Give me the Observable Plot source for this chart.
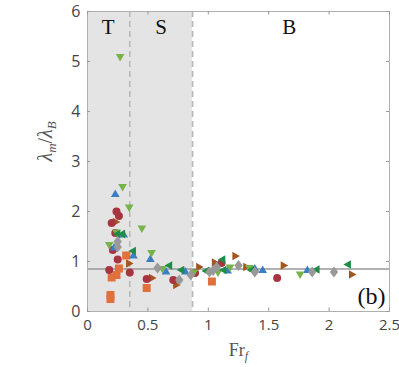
<!DOCTYPE html>
<html><head><meta charset="utf-8">
<script src="https://cdn.jsdelivr.net/npm/d3@7"></script>
<script src="https://cdn.jsdelivr.net/npm/@observablehq/plot@0.6"></script>
<style>body{margin:0;background:#fff}</style>
</head><body><div id="chart"></div>
<script>
// ---- data ----
const circles = [[0.24,2.0],[0.26,1.91],[0.20,1.77],[0.23,1.57],[0.21,1.23],[0.25,1.04],[0.18,0.83],[0.35,0.78],[0.49,0.65],[0.71,0.63],[0.89,0.77],[1.11,0.97],[1.57,0.67]];
const squares = [[0.32,1.12],[0.26,0.86],[0.24,0.73],[0.20,0.68],[0.49,0.47],[0.19,0.33],[0.19,0.25],[1.03,0.60]];
const trisUp = [[0.23,2.34],[0.30,1.53],[0.22,1.27],[0.38,1.11],[0.52,1.04],[0.65,0.79],[0.81,0.79],[1.16,0.81],[1.385,0.85],[1.45,0.82],[1.82,0.82]];
const trisDown = [[0.27,5.1],[0.29,2.5],[0.345,2.09],[0.45,1.67],[0.24,1.59],[0.18,1.34],[0.53,1.18],[0.62,0.86],[0.88,0.79],[1.08,0.79],[1.18,0.89],[1.34,0.88],[1.76,0.75]];
const trisLeft = [[0.25,1.55],[0.29,1.55],[0.38,1.21],[0.68,0.92],[0.78,0.83],[0.985,0.81],[1.12,1.04],[1.13,0.83],[1.36,0.83],[1.90,0.84],[2.16,0.94]];
const trisRight = [[0.23,1.79],[0.34,0.96],[0.53,0.67],[0.73,0.53],[0.92,0.89],[1.05,0.98],[1.22,1.11],[1.31,0.89],[1.62,0.92],[2.185,0.74]];
const diamonds = [[0.25,1.40],[0.25,1.29],[0.58,0.87],[0.76,0.63],[0.855,0.73],[1.01,0.79],[1.04,0.82],[1.07,0.89],[1.25,0.92],[1.385,0.79],[1.86,0.79],[2.04,0.79]];

const xTicks = [0, 0.5, 1, 1.5, 2, 2.5];
const xTickLabels = ["0", "0.5", "1", "1.5", "2", "2.5"];
const yTicks = [0, 1, 2, 3, 4, 5, 6];
const yTickLabels = ["0", "1", "2", "3", "4", "5", "6"];
const boundaries = [0.35, 0.87];
const shadedRegion = [{x1: 0, x2: 0.87}];
const refLine = [0.85];
const regionLabels = [{x: 0.17, label: "T"}, {x: 0.61, label: "S"}, {x: 1.67, label: "B"}];
const panelLabel = [{x: 2.35, y: 0.3, label: "(b)"}];

// ---- custom symbols ----
function tri(angle) {
  return {draw(ctx, size) {
    const r = Math.sqrt(size / Math.PI) * 1.2;
    for (let i = 0; i < 3; i++) {
      const a = angle + i * 2 * Math.PI / 3;
      const px = r * Math.cos(a), py = r * Math.sin(a);
      if (i === 0) ctx.moveTo(px, py); else ctx.lineTo(px, py);
    }
    ctx.closePath();
  }};
}
const symUp = tri(-Math.PI / 2), symDown = tri(Math.PI / 2), symLeft = tri(Math.PI), symRight = tri(0);
const symDiamond = {draw(ctx, size) {
  const r = Math.sqrt(size / Math.PI);
  const w = r * 1.05, h = r * 1.35;
  ctx.moveTo(0, -h); ctx.lineTo(w, 0); ctx.lineTo(0, h); ctx.lineTo(-w, 0); ctx.closePath();
}};
const symSquare = {draw(ctx, size) {
  const s = Math.sqrt(size / Math.PI) * 0.95;
  ctx.rect(-s, -s, 2 * s, 2 * s);
}};

const series = [
  {data: trisRight, symbol: symRight, fill: "#a5551f", r: 4.2},
  {data: squares, symbol: symSquare, fill: "#e2703c", r: 4.2},
  {data: circles, symbol: "circle", fill: "#a8343f", r: 4},
  {data: trisUp, symbol: symUp, fill: "#3a7ec3", r: 4.2},
  {data: trisDown, symbol: symDown, fill: "#78b34a", r: 4.2},
  {data: trisLeft, symbol: symLeft, fill: "#1f8c48", r: 4.2},
  {data: diamonds, symbol: symDiamond, fill: "#999999", r: 4}
];

const tickFont = "'Open Sans', sans-serif";
const serif = "'Liberation Serif', 'DejaVu Serif', serif";

const chart = Plot.plot({
  width: 399, height: 367,
  marginLeft: 87, marginRight: 10, marginTop: 11, marginBottom: 56,
  x: {domain: [0, 2.5]},
  y: {domain: [0, 6]},
  style: {background: "#fff", fontFamily: tickFont},
  marks: [
    Plot.rect(shadedRegion, {x1: "x1", x2: "x2", y1: 0, y2: 6, fill: "#e4e4e4"}),
    Plot.ruleX(boundaries, {stroke: "#b8b8b8", strokeWidth: 1.6, strokeDasharray: "6,4"}),
    Plot.ruleY(refLine, {stroke: "#999", strokeWidth: 1.4}),
    ...series.map(s => Plot.dot(s.data, {x: d => d[0], y: d => d[1], symbol: () => s.symbol, fill: s.fill, r: s.r, stroke: "none"})),
    Plot.frame({stroke: "#b0b0b0", strokeWidth: 1}),
    Plot.ruleX(xTicks, {y1: 0, y2: 0.07, stroke: "#999"}),
    Plot.ruleX(xTicks, {y1: 6, y2: 5.93, stroke: "#999"}),
    Plot.ruleY(yTicks, {x1: 0, x2: 0.025, stroke: "#999"}),
    Plot.ruleY(yTicks, {x1: 2.5, x2: 2.475, stroke: "#999"}),
    Plot.axisX({ticks: xTicks, tickFormat: (d, i) => xTickLabels[i], tickSize: 0, tickPadding: 8, fontSize: 15, color: "#444", label: null}),
    Plot.axisY({ticks: yTicks, tickFormat: (d, i) => yTickLabels[i], tickSize: 0, tickPadding: 7, fontSize: 16, color: "#444", label: null}),
    Plot.text(regionLabels, {x: "x", y: 6, text: "label", dy: 16, fontSize: 21, fontFamily: serif, fill: "#111"}),
    Plot.text(panelLabel, {x: "x", y: "y", text: "label", fontSize: 24, fontFamily: serif, fill: "#111"}),
    Plot.text(["ylabel"], {frameAnchor: "left", dx: -42, rotate: -90, text: d => d, fontSize: 20, fontFamily: serif, fill: "#555", className: "ylab"}),
    Plot.text(["xlabel"], {frameAnchor: "bottom", dy: 44, text: d => d, fontSize: 18, fontFamily: serif, fill: "#555", className: "xlab"})
  ]
});

document.getElementById("chart").appendChild(chart);
d3.select(chart).selectAll(".ylab text").html('<tspan font-style="italic">λ</tspan><tspan font-style="italic" font-size="13" dy="4">m</tspan><tspan dy="-4">/</tspan><tspan font-style="italic">λ</tspan><tspan font-style="italic" font-size="13" dy="4">B</tspan>');
d3.select(chart).selectAll(".xlab text").html('<tspan>Fr</tspan><tspan font-style="italic" font-size="12" dy="4">f</tspan>');
</script>
</body></html>
